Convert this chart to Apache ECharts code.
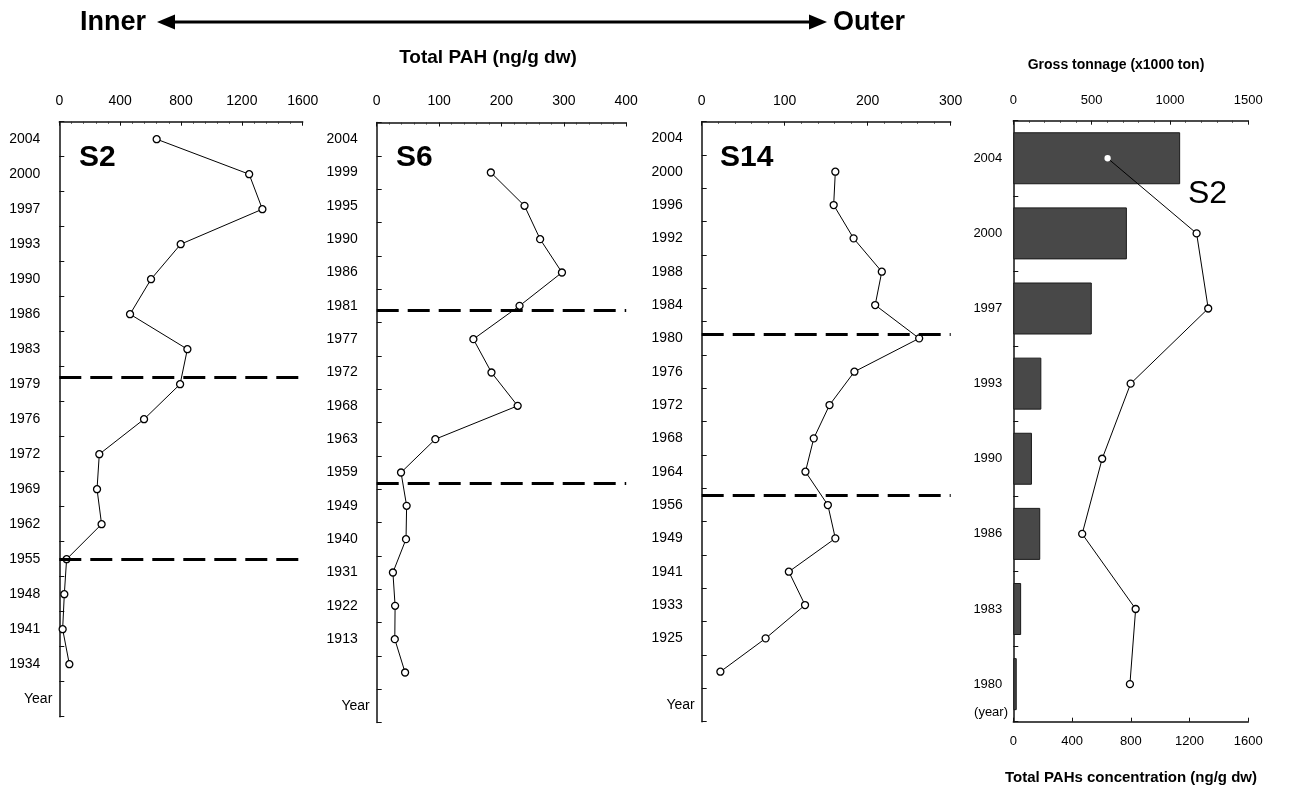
<!DOCTYPE html>
<html>
<head>
<meta charset="utf-8">
<script src="https://cdn.jsdelivr.net/npm/echarts@6/dist/echarts.min.js"></script>
<style>html,body{margin:0;padding:0;background:#fff}#c{width:1293px;height:792px}</style>
</head>
<body>
<div id="c"></div>
<script>
// ---------- data ----------
var s2Years  = ['2004','2000','1997','1993','1990','1986','1983','1979','1976','1972','1969','1962','1955','1948','1941','1934','Year'];
var s2Pah    = [640,1248,1335,798,603,465,842,794,557,263,248,278,48,33,22,66,null];
var s2Breaks = [6.81, 12.0];

var s6Years  = ['2004','1999','1995','1990','1986','1981','1977','1972','1968','1963','1959','1949','1940','1931','1922','1913','','Year'];
var s6Pah    = [null,183,237,262,297,229,155,184,226,94,39,48,47,26,29.5,29,45.5,null];
var s6Breaks = [5.14, 10.33];

var s14Years  = ['2004','2000','1996','1992','1988','1984','1980','1976','1972','1968','1964','1956','1949','1941','1933','1925','','Year'];
var s14Pah    = [null,161,159,183,217,209,262,184,154,135,125,152,161,105,124.5,77,22.5,null];
var s14Breaks = [5.87, 10.71];

var tonYears   = ['2004','2000','1997','1993','1990','1986','1983','1980'];
var tonnage    = [1065,725,501,179,119,172,50,22];
var tonS2Pah   = [642,1248,1327,799,605,469,833,794];

var s2Ticks  = {min:0, max:1600, interval:400};
var s6Ticks  = {min:0, max:400, interval:100};
var s14Ticks = {min:0, max:300, interval:100};
var tonTopTicks = {min:0, max:1500, interval:500};
var tonBotTicks = {min:0, max:1600, interval:400};

// ---------- styles ----------
var FF = "'Liberation Sans', Arial, sans-serif";
var axisLineStyle = {color:'#111', width:1.5};
function plain(v){ return String(v); }

function topX(grid, t){
  return {
    type:'value', gridIndex:grid, position:'top', min:t.min, max:t.max, interval:t.interval,
    axisLine:{show:true, onZero:false, lineStyle:axisLineStyle},
    axisTick:{show:true, inside:true, length:4, lineStyle:{color:'#111'}},
    minorTick:{show:true, splitNumber:5, length:2, lineStyle:{color:'#333'}},
    splitLine:{show:false},
    axisLabel:{fontFamily:FF, fontSize:14, color:'#000', margin:14, formatter:plain}
  };
}
function catY(grid, cats){
  return {
    type:'category', gridIndex:grid, data:cats, inverse:true, boundaryGap:true,
    axisLine:{show:true, onZero:false, lineStyle:axisLineStyle},
    axisTick:{show:true, inside:true, length:5, lineStyle:{color:'#111'}},
    splitLine:{show:false},
    axisLabel:{interval:0, fontFamily:FF, fontSize:14, color:'#000', margin:7,
      formatter:function(v){ return v==='Year' ? '{y|Year}' : '{n|'+v+'}'; },
      rich:{
        n:{fontFamily:FF, fontSize:14, color:'#000', padding:[0,12,0,0]},
        y:{fontFamily:FF, fontSize:14, color:'#000'}
      }}
  };
}
function hiddenY(grid, n){
  return {type:'value', gridIndex:grid, inverse:true, min:-0.5, max:n-0.5, show:false,
    axisLine:{onZero:false}, splitLine:{show:false}};
}
function profile(xi, yi, vals, breaks){
  var d = [];
  vals.forEach(function(v,i){ if(v!==null) d.push([v,i]); });
  return {
    type:'line', xAxisIndex:xi, yAxisIndex:yi, data:d,
    symbol:'circle', symbolSize:7,
    itemStyle:{color:'#fff', borderColor:'#000', borderWidth:1.3},
    lineStyle:{color:'#000', width:1},
    markLine:{
      silent:true, symbol:'none', animation:false,
      label:{show:false},
      lineStyle:{color:'#000', width:3, type:[22,9]},
      data: breaks.map(function(b){ return {yAxis:b}; })
    },
    z:3
  };
}

var chart = echarts.init(document.getElementById('c'), null, {renderer:'canvas'});
var option = {
  animation:false,
  backgroundColor:'#fff',
  grid:[
    {left:59.3, top:121.7, width:243.4, height:595},
    {left:376.7, top:122.5, width:249.5, height:600},
    {left:701.7, top:121.7, width:249, height:600},
    {left:1013.3, top:120.7, width:235, height:601}
  ],
  xAxis:[
    topX(0, s2Ticks),
    topX(1, s6Ticks),
    topX(2, s14Ticks),
    (function(){ var a = topX(3, tonTopTicks); a.axisLabel.fontSize=13; return a; })(),
    {
      type:'value', gridIndex:3, position:'bottom', min:tonBotTicks.min, max:tonBotTicks.max, interval:tonBotTicks.interval,
      axisLine:{show:true, onZero:false, lineStyle:axisLineStyle},
      axisTick:{show:true, inside:true, length:4, lineStyle:{color:'#111'}},
      splitLine:{show:false},
      axisLabel:{fontFamily:FF, fontSize:13, color:'#000', margin:13, formatter:plain}
    }
  ],
  yAxis:[
    catY(0, s2Years), hiddenY(0, s2Years.length),
    catY(1, s6Years), hiddenY(1, s6Years.length),
    catY(2, s14Years), hiddenY(2, s14Years.length),
    {
      type:'category', gridIndex:3, data:tonYears, inverse:true, boundaryGap:true,
      axisLine:{show:true, onZero:false, lineStyle:axisLineStyle},
      axisTick:{show:true, inside:true, length:5, lineStyle:{color:'#111'}},
      axisLabel:{interval:0, fontFamily:FF, fontSize:13, color:'#000', margin:11}
    }
  ],
  series:[
    profile(0, 1, s2Pah, s2Breaks),
    profile(1, 3, s6Pah, s6Breaks),
    profile(2, 5, s14Pah, s14Breaks),
    {
      type:'bar', xAxisIndex:3, yAxisIndex:6, data:tonnage, barWidth:52,
      itemStyle:{color:'#484848', borderColor:'#1a1a1a', borderWidth:1},
      z:2
    },
    {
      type:'line', xAxisIndex:4, yAxisIndex:6,
      data: tonS2Pah.map(function(v,i){ return i===0 ? {value:v, symbolSize:5, itemStyle:{borderColor:'#fff'}} : v; }),
      symbol:'circle', symbolSize:7,
      itemStyle:{color:'#fff', borderColor:'#000', borderWidth:1.3},
      lineStyle:{color:'#000', width:1},
      z:3
    }
  ],
  graphic:[
    {type:'text', left:80, top:9, style:{text:'Inner', font:"bold 27px "+FF, fill:'#000'}},
    {type:'text', left:833, top:9, style:{text:'Outer', font:"bold 27px "+FF, fill:'#000'}},
    {type:'line', shape:{x1:170, y1:22, x2:814, y2:22}, style:{stroke:'#000', lineWidth:3}},
    {type:'polygon', shape:{points:[[157,22],[175,14.5],[175,29.5]]}, style:{fill:'#000'}},
    {type:'polygon', shape:{points:[[827,22],[809,14.5],[809,29.5]]}, style:{fill:'#000'}},
    {type:'text', x:488, y:58, style:{text:'Total PAH (ng/g dw)', font:"bold 19px "+FF, fill:'#000', align:'center', verticalAlign:'middle'}},
    {type:'text', x:79, y:158, style:{text:'S2', font:"bold 30px "+FF, fill:'#000', verticalAlign:'middle'}},
    {type:'text', x:396, y:158, style:{text:'S6', font:"bold 30px "+FF, fill:'#000', verticalAlign:'middle'}},
    {type:'text', x:720, y:158, style:{text:'S14', font:"bold 30px "+FF, fill:'#000', verticalAlign:'middle'}},
    {type:'text', x:1188, y:194, style:{text:'S2', font:"32px "+FF, fill:'#000', verticalAlign:'middle'}},
    {type:'text', x:1116, y:65, style:{text:'Gross tonnage (x1000 ton)', font:"bold 14px "+FF, fill:'#000', align:'center', verticalAlign:'middle'}},
    {type:'text', x:1131, y:778, style:{text:'Total PAHs concentration (ng/g dw)', font:"bold 15px "+FF, fill:'#000', align:'center', verticalAlign:'middle'}},
    {type:'text', x:1008, y:712, style:{text:'(year)', font:"13px "+FF, fill:'#000', align:'right', verticalAlign:'middle'}}
  ]
};
chart.setOption(option);
</script>
</body>
</html>
